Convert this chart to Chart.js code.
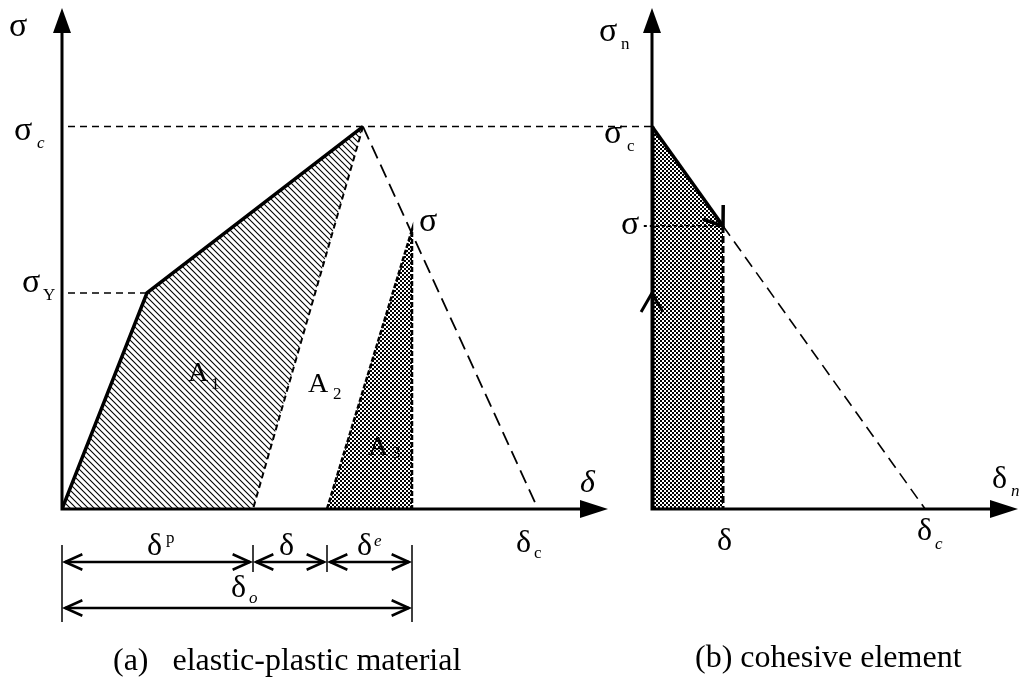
<!DOCTYPE html>
<html>
<head>
<meta charset="utf-8">
<script src="https://cdn.jsdelivr.net/npm/chart.js@4.4.0/dist/chart.umd.min.js"></script>
<style>
  html, body { margin: 0; padding: 0; background: #fff; }
  .wrap { position: relative; width: 1030px; height: 679px; overflow: hidden; }
  .wrap canvas { position: absolute; left: 0; top: 0; }
  .caption {
    position: absolute;
    font-family: "Liberation Serif", serif;
    font-size: 32px;
    line-height: 32px;
    white-space: pre;
    color: #000;
  }
</style>
</head>
<body>
<div class="wrap">
  <canvas id="plastic" width="1030" height="679"></canvas>
  <canvas id="cohesive" width="1030" height="679"></canvas>
  <div class="caption" style="left:113px; top:643px;">(a)   elastic-plastic material</div>
  <div class="caption" style="left:695px; top:640px;">(b) cohesive element</div>
</div>
<script>
// (a) elastic-plastic material  -- delta in arbitrary units, sigma / sigma_c
const loadDelta = [0, 0.85, 3.01];
const loadSigma = [0, 0.565, 1.0];
const unloadDelta = [3.01, 1.91];
const unloadSigma = [1.0, 0];
const softenDelta = [3.01, 4.76];
const softenSigma = [1.0, 0];
const reloadDelta = [2.65, 3.5, 3.5];
const reloadSigma = [0, 0.73, 0];
const sigmaC = 1.0;
const sigmaY = 0.565;
const dimDelta = [0, 1.91, 2.65, 3.5]; // 0, delta_p, delta_p + delta, delta_o

// (b) cohesive element  -- delta / delta_c, sigma / sigma_c
const cohDelta = [0, 0.26, 1.0];
const cohSigma = [1.0, 0.74, 0];
const cohArrowSigma = 0.565;

const FONT = '"Liberation Serif", "Times New Roman", serif';
const SIG = 34, DEL = 32, SUB = 17;

function pts(xs, ys) {
  return xs.map(function (x, i) { return { x: x, y: ys[i] }; });
}

function makePattern(ctx, kind) {
  const c = document.createElement("canvas");
  const g = c.getContext("2d");
  if (kind === "hatch") {
    c.width = c.height = 6;
    g.strokeStyle = "#000";
    g.lineWidth = 1.1;
    g.beginPath();
    for (let k = -6; k <= 6; k += 6) {
      g.moveTo(k - 1, -1);
      g.lineTo(k + 7, 7);
    }
    g.stroke();
  } else {
    c.width = c.height = 4;
    g.fillStyle = "#fff";
    g.fillRect(0, 0, 4, 4);
    g.fillStyle = "#000";
    g.fillRect(0, 0, 2, 2);
    g.fillRect(2, 2, 2, 2);
  }
  return ctx.createPattern(c, "repeat");
}

function head(ctx, x, y, ang, len, half) {
  const cx = x - len * Math.cos(ang), cy = y - len * Math.sin(ang);
  const nx = -Math.sin(ang) * half, ny = Math.cos(ang) * half;
  ctx.beginPath();
  ctx.moveTo(x, y);
  ctx.lineTo(cx + nx, cy + ny);
  ctx.lineTo(cx - nx, cy - ny);
  ctx.closePath();
  ctx.fill();
}

function chevron(ctx, x, y, ang, len, spread) {
  ctx.beginPath();
  ctx.moveTo(x + len * Math.cos(ang + Math.PI - spread), y + len * Math.sin(ang + Math.PI - spread));
  ctx.lineTo(x, y);
  ctx.lineTo(x + len * Math.cos(ang + Math.PI + spread), y + len * Math.sin(ang + Math.PI + spread));
  ctx.stroke();
}

function txt(ctx, s, x, y, size, italic) {
  ctx.font = (italic ? "italic " : "") + size + "px " + FONT;
  ctx.fillText(s, x, y);
}

// hatched / checked areas, drawn under the lines
const polyFill = {
  id: "polyFill",
  beforeDatasetsDraw(chart) {
    const ctx = chart.ctx;
    chart.data.datasets.forEach(function (ds, i) {
      if (!ds.pattern) return;
      const p = chart.getDatasetMeta(i).data;
      ctx.save();
      ctx.beginPath();
      p.forEach(function (pt, k) {
        if (k) ctx.lineTo(pt.x, pt.y); else ctx.moveTo(pt.x, pt.y);
      });
      ctx.closePath();
      ctx.fillStyle = makePattern(ctx, ds.pattern);
      ctx.fill();
      ctx.restore();
    });
  }
};

// axes with filled arrow heads
const arrowAxes = {
  id: "arrowAxes",
  afterDatasetsDraw(chart) {
    const ctx = chart.ctx, a = chart.chartArea;
    ctx.save();
    ctx.strokeStyle = "#000";
    ctx.fillStyle = "#000";
    ctx.lineWidth = 3;
    ctx.beginPath();
    ctx.moveTo(a.left, a.top + 20);
    ctx.lineTo(a.left, a.bottom);
    ctx.lineTo(a.right - 20, a.bottom);
    ctx.stroke();
    head(ctx, a.left, a.top, -Math.PI / 2, 25, 9);
    head(ctx, a.right, a.bottom, 0, 28, 9);
    // end-of-line arrows on datasets
    chart.data.datasets.forEach(function (ds, i) {
      if (!ds.arrowEnd) return;
      const p = chart.getDatasetMeta(i).data;
      const p0 = p[p.length - 2], p1 = p[p.length - 1];
      ctx.lineWidth = 3.5;
      chevron(ctx, p1.x, p1.y, Math.atan2(p1.y - p0.y, p1.x - p0.x), 21, 0.63);
    });
    ctx.restore();
  }
};

const baseOptions = function (xMax, pad) {
  return {
    responsive: false,
    animation: false,
    events: [],
    layout: { padding: pad },
    plugins: { legend: { display: false }, tooltip: { enabled: false } },
    elements: { point: { radius: 0 }, line: { tension: 0, borderColor: "#000" } },
    scales: {
      x: { type: "linear", min: 0, max: xMax, display: false },
      y: { type: "linear", min: 0, max: 1.31, display: false }
    }
  };
};

function line(data, width, dash, extra) {
  return Object.assign({
    data: data,
    showLine: true,
    borderColor: "#000",
    backgroundColor: "transparent",
    borderWidth: width,
    borderDash: dash || [],
    pointRadius: 0,
    fill: false
  }, extra || {});
}

// ---------- (a) elastic-plastic ----------
const areaA1 = pts(loadDelta, loadSigma).concat(pts(unloadDelta.slice(1), unloadSigma.slice(1)));
const areaA3 = pts(reloadDelta, reloadSigma);

const plasticLabels = {
  id: "plasticLabels",
  beforeDatasetsDraw(chart) {
    const ctx = chart.ctx;
    ctx.save();
    ctx.fillStyle = "#000";
    txt(ctx, "A", 368, 455, 28, false);
    txt(ctx, "3", 392, 458, SUB, false);
    ctx.restore();
  },
  afterDraw(chart) {
    const ctx = chart.ctx, xs = chart.scales.x, a = chart.chartArea;
    ctx.save();
    ctx.fillStyle = "#000";
    ctx.strokeStyle = "#000";
    txt(ctx, "\u03c3", 9, 36, SIG);
    txt(ctx, "\u03c3", 14, 140, SIG);
    txt(ctx, "c", 37, 148, SUB, true);
    txt(ctx, "\u03c3", 22, 292, SIG);
    txt(ctx, "Y", 43, 300, SUB);
    txt(ctx, "\u03c3", 419, 231, SIG);
    txt(ctx, "\u03b4", 580, 492, DEL, true);
    txt(ctx, "A", 188, 381, 28);
    txt(ctx, "1", 211, 389, SUB);
    txt(ctx, "A", 308, 392, 28);
    txt(ctx, "2", 333, 399, SUB);
    txt(ctx, "\u03b4", 516, 552, DEL);
    txt(ctx, "c", 534, 558, SUB);
    // dimension lines below the axis
    const px = dimDelta.map(function (d) { return xs.getPixelForValue(d); });
    const r1 = a.bottom + 53, r2 = a.bottom + 99;
    ctx.lineWidth = 1.5;
    ctx.beginPath();
    [0, 3].forEach(function (k) { ctx.moveTo(px[k], a.bottom + 36); ctx.lineTo(px[k], a.bottom + 113); });
    [1, 2].forEach(function (k) { ctx.moveTo(px[k], a.bottom + 36); ctx.lineTo(px[k], a.bottom + 63); });
    ctx.stroke();
    ctx.lineWidth = 2.5;
    function dbl(x1, x2, y) {
      ctx.beginPath();
      ctx.moveTo(x1 + 3, y);
      ctx.lineTo(x2 - 3, y);
      ctx.stroke();
      chevron(ctx, x1 + 3, y, Math.PI, 19, 0.42);
      chevron(ctx, x2 - 3, y, 0, 19, 0.42);
    }
    dbl(px[0], px[1], r1);
    dbl(px[1], px[2], r1);
    dbl(px[2], px[3], r1);
    dbl(px[0], px[3], r2);
    txt(ctx, "\u03b4", 147, 555, DEL);
    txt(ctx, "p", 166, 543, SUB);
    txt(ctx, "\u03b4", 279, 555, DEL);
    txt(ctx, "\u03b4", 357, 555, DEL);
    txt(ctx, "e", 374, 546, SUB, true);
    txt(ctx, "\u03b4", 231, 597, DEL);
    txt(ctx, "o", 249, 603, SUB, true);
    ctx.restore();
  }
};

new Chart(document.getElementById("plastic"), {
  type: "scatter",
  data: {
    datasets: [
      line(areaA1, 0, [], { showLine: false, pattern: "hatch" }),
      line(areaA3, 2.5, [5, 2], { pattern: "checker" }),
      line(pts([0.06, 5.9], [sigmaC, sigmaC]), 1.5, [7, 5], { clip: false }),
      line(pts([0.06, loadDelta[1]], [sigmaY, sigmaY]), 1.5, [7, 5]),
      line(pts(loadDelta, loadSigma), 3.5),
      line(pts(unloadDelta, unloadSigma), 2, [6, 4]),
      line(pts(softenDelta, softenSigma), 1.8, [14, 7])
    ]
  },
  options: baseOptions(5.46, { left: 62, right: 422, top: 8, bottom: 170 }),
  plugins: [polyFill, plasticLabels, arrowAxes]
});

// ---------- (b) cohesive element ----------
const areaB = [{ x: 0, y: 0 }].concat(pts(cohDelta.slice(0, 2), cohSigma.slice(0, 2)), [{ x: cohDelta[1], y: 0 }]);

const cohesiveLabels = {
  id: "cohesiveLabels",
  afterDraw(chart) {
    const ctx = chart.ctx, a = chart.chartArea, ys = chart.scales.y;
    ctx.save();
    ctx.fillStyle = "#000";
    ctx.strokeStyle = "#000";
    ctx.lineWidth = 3;
    chevron(ctx, a.left, ys.getPixelForValue(cohArrowSigma), -Math.PI / 2, 22, 0.52);
    txt(ctx, "\u03c3", 599, 41, SIG);
    txt(ctx, "n", 621, 49, SUB);
    txt(ctx, "\u03c3", 604, 143, SIG);
    txt(ctx, "c", 627, 151, SUB);
    txt(ctx, "\u03c3", 621, 234, SIG);
    txt(ctx, "\u03b4", 992, 488, DEL);
    txt(ctx, "n", 1011, 496, SUB, true);
    txt(ctx, "\u03b4", 717, 550, DEL);
    txt(ctx, "\u03b4", 917, 540, DEL);
    txt(ctx, "c", 935, 549, SUB, true);
    ctx.restore();
  }
};

new Chart(document.getElementById("cohesive"), {
  type: "scatter",
  data: {
    datasets: [
      line(areaB, 0, [], { showLine: false, pattern: "checker" }),
      line(pts([0, 0], [0, cohSigma[0]]), 5),
      line(pts(cohDelta.slice(0, 2), cohSigma.slice(0, 2)), 3.5, [], { arrowEnd: true }),
      line(pts([-0.03, cohDelta[1]], [cohSigma[1], cohSigma[1]]), 2, [3, 3], { clip: false }),
      line(pts([cohDelta[1], cohDelta[1]], [cohSigma[1], 0]), 3, [7, 3]),
      line(pts(cohDelta.slice(1), cohSigma.slice(1)), 1.6, [12, 7])
    ]
  },
  options: baseOptions(1.34, { left: 652, right: 12, top: 8, bottom: 170 }),
  plugins: [polyFill, cohesiveLabels, arrowAxes]
});
</script>
</body>
</html>
